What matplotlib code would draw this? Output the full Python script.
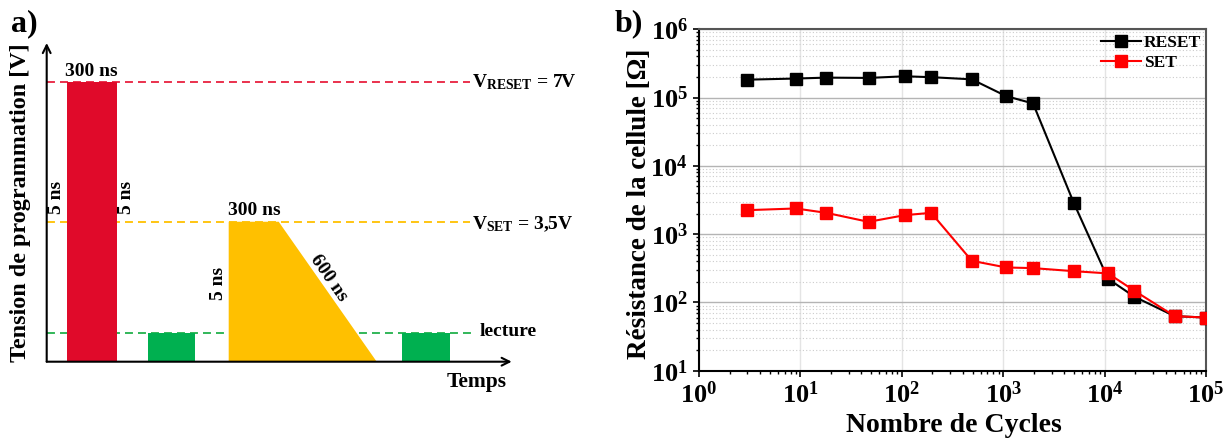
import math

import matplotlib
matplotlib.use("Agg")
import matplotlib.pyplot as plt
from matplotlib.ticker import LogLocator, FuncFormatter, NullFormatter

plt.rcParams["font.family"] = ["Liberation Serif", "DejaVu Serif"]
plt.rcParams["font.weight"] = "bold"
plt.rcParams["mathtext.fontset"] = "custom"
plt.rcParams["mathtext.rm"] = "Liberation Serif:bold"
plt.rcParams["mathtext.bf"] = "Liberation Serif:bold"
plt.rcParams["mathtext.it"] = "Liberation Serif:bold"
plt.rcParams["mathtext.default"] = "rm"

# --- (a) schéma des impulsions (unités arbitraires) ---
V_RESET = 7.0
V_SET = 3.5
V_READ = 0.72
reset_pulse = [2.0, 7.0]             # début, fin
set_pulse = [18.2, 23.2, 33.0]       # début, fin du plateau, fin de la rampe
read_pulses = [[10.1, 14.8], [35.5, 40.3]]
t_max, v_max = 46.5, 7.97

# --- (b) endurance ---
cycles = [3, 9, 18, 47, 107, 195, 490, 1070, 1970, 4950, 10800, 19700, 49000, 100000]
r_reset = [1.83e5, 1.90e5, 1.96e5, 1.94e5, 2.05e5, 1.99e5, 1.85e5, 1.05e5, 8.2e4,
           2.9e3, 222, 121, 63, 60]
r_set = [2245, 2376, 2051, 1514, 1897, 2051, 407, 325, 318, 287, 266, 148, 63, 60]

W, H = 1229, 441
fig = plt.figure(figsize=(W / 100, H / 100), dpi=100)

# ---------------- panel a ----------------
axa = fig.add_axes([46.7 / W, (H - 361.7) / H, 465 / W, (361.7 - 43) / H])
axa.set_xlim(0, t_max)
axa.set_ylim(0, v_max)
axa.axis("off")

dash = (0, (4.4, 2.8))
axa.hlines(V_RESET, 0, 42.3, colors="#e8213f", linestyles=dash, lw=1.3, zorder=1)
axa.hlines(V_SET, 0, 42.3, colors="#ffc000", linestyles=dash, lw=1.3, zorder=1)
axa.hlines(V_READ, 0, 42.8, colors="#22b14c", linestyles=dash, lw=1.3, zorder=1)

axa.bar(reset_pulse[0], V_RESET, width=reset_pulse[1] - reset_pulse[0], align="edge",
        color="#e00a2a", lw=0, zorder=2)
for t0, t1 in read_pulses:
    axa.bar(t0, V_READ, width=t1 - t0, align="edge", color="#00b050", lw=0, zorder=2)
axa.fill([set_pulse[0], set_pulse[0], set_pulse[1], set_pulse[2]],
         [0, V_SET, V_SET, 0], color="#ffc000", lw=0, zorder=2)

arrow = dict(arrowstyle="->", lw=1.5, color="black", shrinkA=0, shrinkB=0, mutation_scale=14)
axa.annotate("", xy=(t_max, 0), xytext=(0, 0), arrowprops=arrow, annotation_clip=False, zorder=3)
axa.annotate("", xy=(0, v_max), xytext=(0, 0), arrowprops=arrow, annotation_clip=False, zorder=3)

fs = 14
axa.text(sum(reset_pulse) / 2, V_RESET + 0.05, "300 ns", ha="center", va="bottom", fontsize=fs)
axa.text(reset_pulse[0] - 1.0, 4.12, "5 ns", rotation=90, ha="center", va="center", fontsize=fs)
axa.text(reset_pulse[1] + 1.0, 4.12, "5 ns", rotation=90, ha="center", va="center", fontsize=fs)
axa.text((set_pulse[0] + set_pulse[1]) / 2 + 0.1, V_SET + 0.08, "300 ns", ha="center",
         va="bottom", fontsize=fs)
axa.text(set_pulse[0] - 1.0, 1.96, "5 ns", rotation=90, ha="center", va="center", fontsize=fs)
axa.text(28.2, 2.08, "600 ns", rotation=-55.2, ha="center", va="center", fontsize=fs)
axa.text(42.5, V_RESET, r"V$_{\rm RESET}$ = 7V", ha="left", va="center", fontsize=fs)
axa.text(42.5, V_SET - 0.05, r"V$_{\rm SET}$ = 3,5V", ha="left", va="center", fontsize=fs)
axa.text(43.3, V_READ + 0.03, "lecture", ha="left", va="center", fontsize=fs)
axa.text(43.0, -0.5, "Temps", ha="center", va="center", fontsize=15.5)

fig.text(21 / W, 1 - 203 / H, "Tension de programmation [V]", rotation=90,
         ha="center", va="center", fontsize=17.4)
fig.text(11 / W, 1 - 9 / H, "a)", ha="left", va="top", fontsize=23)

# ---------------- panel b ----------------
axb = fig.add_axes([699 / W, (H - 370.7) / H, 507 / W, 341.4 / H])
axb.set_xscale("log")
axb.set_yscale("log")
axb.set_xlim(1, 1e5)
axb.set_ylim(10, 1e6)

axb.plot(cycles, r_reset, "-s", color="black", ms=9, lw=1.5, label="RESET", zorder=3)
axb.plot(cycles, r_set, "-s", color="#ff0000", ms=9, lw=1.5, label="SET", zorder=4)

axb.set_axisbelow(True)
axb.yaxis.set_minor_locator(LogLocator(base=10, subs=range(2, 10), numticks=20))
axb.xaxis.set_minor_locator(LogLocator(base=10, subs=range(2, 10), numticks=20))
axb.yaxis.set_minor_formatter(NullFormatter())
axb.xaxis.set_minor_formatter(NullFormatter())
pow_fmt = FuncFormatter(lambda v, _: r"$10^{%d}$" % round(math.log10(v)))
axb.xaxis.set_major_formatter(pow_fmt)
axb.yaxis.set_major_formatter(pow_fmt)

axb.grid(which="major", axis="y", color="#b4b4b4", lw=1.0, ls="-")
axb.grid(which="major", axis="x", color="#e4e4e4", lw=1.0, ls="-")
axb.grid(which="minor", axis="y", color="#cccccc", lw=0.8, ls=(0, (1, 2)))

axb.tick_params(which="major", direction="out", length=4, width=1.2, pad=4, labelsize=19)
axb.tick_params(which="minor", direction="out", length=2.5, width=1.0)
for s in ("left", "bottom"):
    axb.spines[s].set_color("black")
    axb.spines[s].set_linewidth(1.5)
for s in ("top", "right"):
    axb.spines[s].set_color("#555555")
    axb.spines[s].set_linewidth(1.5)

axb.legend(loc="upper right", bbox_to_anchor=(1.0, 1.0), frameon=False, fontsize=12.5,
           handlelength=2.3, handletextpad=0.15, borderaxespad=0.15, borderpad=0.15,
           labelspacing=0.25, markerscale=0.9)

fig.text(639 / W, 1 - 204 / H, "Résistance de la cellule [Ω]", rotation=90,
         ha="center", va="center", fontsize=19.5)
fig.text(954 / W, 1 - 425 / H, "Nombre de Cycles", ha="center", va="center", fontsize=20)
fig.text(615 / W, 1 - 9 / H, "b)", ha="left", va="top", fontsize=23)

fig.savefig("out.png", dpi=100)
